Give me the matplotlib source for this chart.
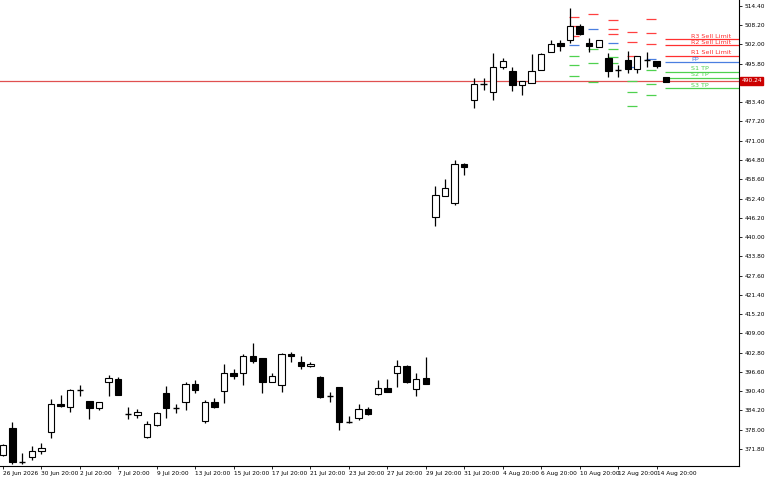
import matplotlib
matplotlib.use("Agg")
import matplotlib.pyplot as plt

opens = [369.8,378.5,367.6,369.2,371.1,377.2,386.4,385.2,390.8,387.2,385.0,393.3,394.3,383.2,382.7,375.6,379.5,389.8,385.1,386.9,
         392.6,380.7,386.9,390.4,396.2,396.2,401.7,401.0,393.3,392.3,402.3,399.7,398.4,394.9,388.8,391.7,380.4,381.7,384.6,389.4,
         391.4,396.2,398.4,391.0,394.6,446.4,453.2,450.9,463.5,484.1,489.2,486.7,494.7,493.4,488.9,489.6,493.8,499.6,502.5,503.4,
         507.9,502.5,501.2,497.6,493.8,497.0,494.1,497.0,496.7,491.5]
closes = [373.0,367.5,367.9,371.1,372.1,386.2,385.6,390.7,391.0,384.9,386.9,394.6,389.1,383.0,383.7,379.8,383.4,385.0,385.3,392.6,
          390.7,386.9,385.3,396.2,395.2,401.7,400.1,393.3,395.2,402.3,401.7,398.4,399.1,388.5,388.9,380.4,380.6,384.6,383.0,391.4,
          390.1,398.4,393.3,394.3,392.6,453.5,455.8,463.5,462.5,489.3,489.4,494.7,496.7,488.9,490.2,493.4,498.9,502.2,501.5,508.0,
          505.4,501.5,503.4,493.4,493.9,494.1,498.3,497.1,495.1,489.9]
highs = [373.5,380.4,370.4,372.7,373.7,387.8,389.1,391.0,392.3,387.2,387.0,395.5,395.0,385.3,384.6,380.7,383.6,392.0,386.2,393.3,
         393.9,387.5,388.1,399.1,397.5,402.3,405.8,401.0,396.2,402.6,403.0,401.7,399.7,395.2,390.1,391.7,382.4,386.2,385.3,393.9,
         394.3,400.4,398.7,396.2,401.3,456.4,458.7,464.8,463.8,491.2,491.2,499.2,497.6,494.7,490.2,498.9,499.2,503.4,503.5,513.7,
         508.5,504.1,503.4,499.2,495.4,499.9,498.3,499.6,496.7,491.5]
lows = [369.5,367.0,366.9,368.2,370.1,375.3,385.2,383.6,388.8,381.4,384.2,388.8,389.1,381.4,381.7,375.3,379.2,381.7,383.3,384.3,
        389.7,380.1,384.9,386.5,394.3,392.3,399.4,389.7,393.3,390.1,399.7,397.5,398.1,388.1,386.9,377.8,380.1,381.1,382.7,389.1,
        390.1,391.7,393.0,388.8,392.6,443.5,453.2,450.3,460.0,481.5,487.3,484.1,494.1,487.0,485.7,489.6,493.8,499.6,499.9,502.5,
        504.9,499.6,501.2,491.5,491.5,492.8,492.8,494.7,494.4,489.9]

pivot_start = [59, 61, 63, 65, 67]
pivot_red = [[510.8,507.9,504.7],[511.8],[509.9,507.0,505.4],[506.0,502.8,498.3],[510.2,505.7,502.1]]
pivot_blue = [[501.8],[507.0],[502.5],[494.7],[497.3]]
pivot_green = [[498.3,495.4,491.8],[500.5,496.0,489.9],[500.5,497.9,496.0],[490.2,486.7,482.2],[493.8,489.3,485.7]]

cur_names = ["R3 Sell Limit","R2 Sell Limit","R1 Sell Limit","PP","S1 TP","S2 TP","S3 TP"]
cur_levels = [503.6,501.7,498.3,496.3,493.1,491.2,487.9]
cur_colors = ["#ff3030","#ff3030","#ff3030","#4a7fe0","#4fd14f","#4fd14f","#4fd14f"]
last_price = 490.24

xlabels = ["26 Jun 2026","30 Jun 20:00","2 Jul 20:00","7 Jul 20:00","9 Jul 20:00","13 Jul 20:00","15 Jul 20:00",
           "17 Jul 20:00","21 Jul 20:00","23 Jul 20:00","27 Jul 20:00","29 Jul 20:00","31 Jul 20:00","4 Aug 20:00",
           "6 Aug 20:00","10 Aug 20:00","12 Aug 20:00","14 Aug 20:00"]
yticks = [371.8+6.2*k for k in range(24)]

fig = plt.figure(figsize=(7.68,4.8), dpi=100)
ax = fig.add_axes([0, 0.029, 0.9625, 0.971])
XMAX = 76.6
ax.set_xlim(-0.3, XMAX)
ax.set_ylim(366.3, 516.3)

ax.axhline(last_price, color="#e05050", lw=0.9, zorder=1)

for i,(o,c,h,l) in enumerate(zip(opens,closes,highs,lows)):
    ax.vlines(i, l, h, color="black", lw=0.9, zorder=3)
    bot, top = min(o,c), max(o,c)
    if top-bot < 0.3:
        ax.hlines(o, i-0.33, i+0.33, color="black", lw=1.0, zorder=4)
    else:
        fc = "white" if c > o else "black"
        ax.bar(i, top-bot, bottom=bot, width=0.66, facecolor=fc, edgecolor="black", lw=0.8, zorder=4)

for s, rs, bs, gs in zip(pivot_start, pivot_red, pivot_blue, pivot_green):
    for lv in rs:
        ax.hlines(lv, s-0.1, s+0.95, color="#ff4040", lw=0.9, zorder=2)
    for lv in bs:
        ax.hlines(lv, s-0.1, s+0.95, color="#4a7fe0", lw=0.9, zorder=2)
    for lv in gs:
        ax.hlines(lv, s-0.1, s+0.95, color="#4fd14f", lw=0.9, zorder=2)

for n, lv, col in zip(cur_names, cur_levels, cur_colors):
    ax.hlines(lv, 68.9, XMAX, color=col, lw=0.9, zorder=2)
    ax.text(71.6, lv+0.2, n, color=col, fontsize=4.6, va="bottom", ha="left")

ax.yaxis.tick_right()
ax.set_yticks([t for t in yticks if abs(t-last_price) > 2])
ax.set_yticklabels([f"{t:.2f}" for t in yticks if abs(t-last_price) > 2], fontsize=4.2)
ax.set_xticks(range(0, 4*len(xlabels), 4))
ax.set_xticklabels(xlabels, fontsize=4.2, ha="left")
ax.tick_params(length=2.5, width=0.6, pad=1.2)
for sp in ["top","left"]:
    ax.spines[sp].set_visible(False)
ax.spines["right"].set_linewidth(0.8)
ax.spines["bottom"].set_linewidth(0.8)
ax.text(1.003, (last_price-366.3)/150, f"{last_price:.2f}", transform=ax.transAxes, fontsize=4.2,
        color="white", va="center", ha="left", bbox=dict(boxstyle="square,pad=0.2", fc="#cc0000", ec="#cc0000"))
fig.savefig("out.png", dpi=100)
